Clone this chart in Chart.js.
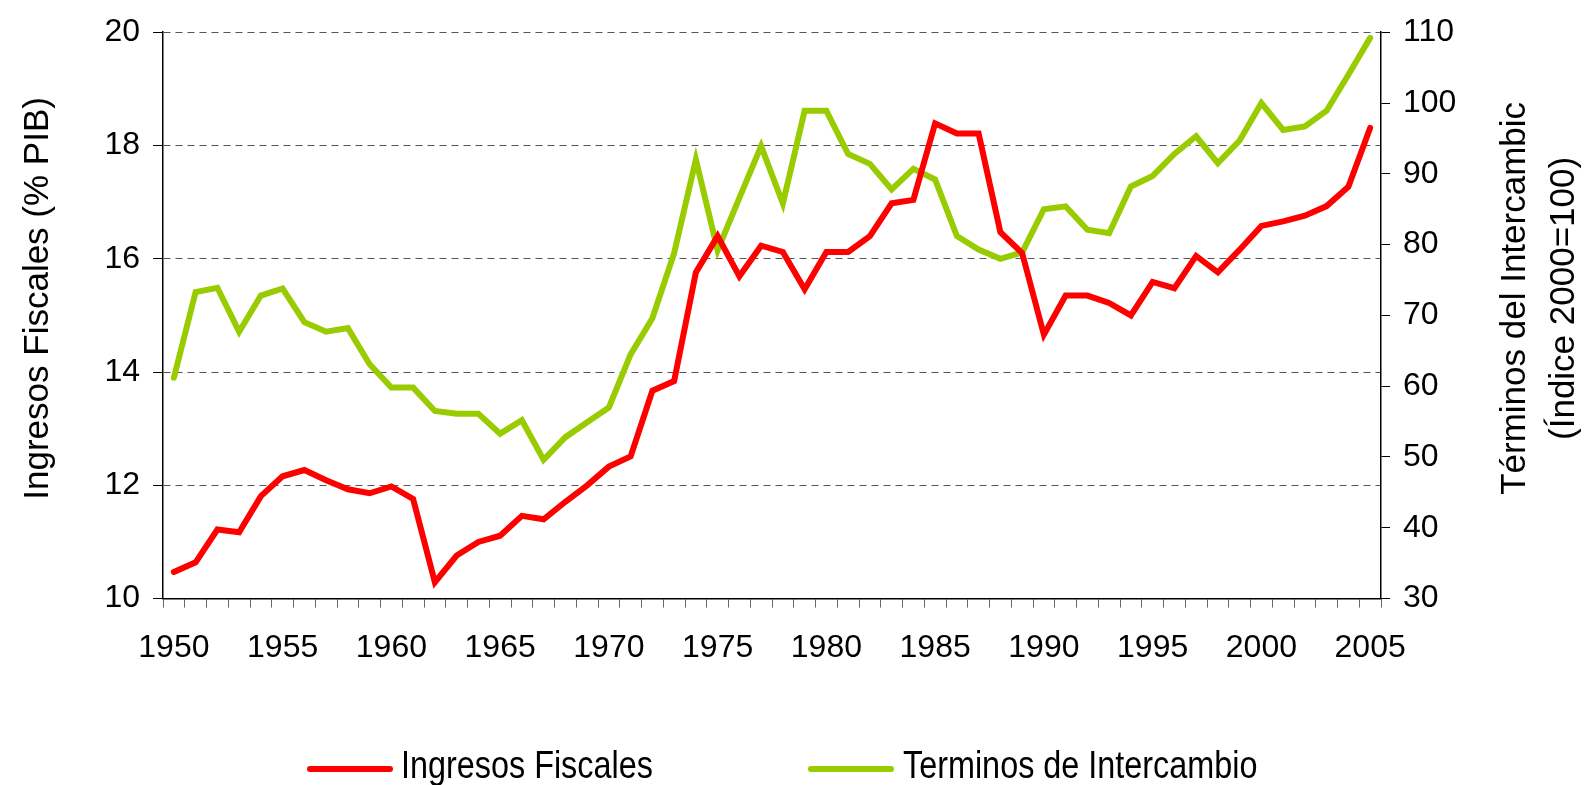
<!DOCTYPE html>
<html lang="es">
<head>
<meta charset="utf-8">
<title>Ingresos Fiscales y Terminos de Intercambio</title>
<script src="https://cdn.jsdelivr.net/npm/chart.js@4.4.1/dist/chart.umd.min.js"></script>
<style>
    html, body { margin: 0; padding: 0; background: #fff; }
    #contenedor { position: relative; width: 1585px; height: 785px; }
    #leyenda { position: absolute; left: 0; top: 0; width: 1585px; height: 785px; pointer-events: none; }
    /* el original usa una letra angosta: se comprime en horizontal */
    .item { position: absolute; top: 745px; height: 39px; line-height: 39px; white-space: nowrap;
            font-family: "Liberation Sans", Arial, sans-serif;
            font-size: 39px; color: #000;
            transform: scaleX(0.83); transform-origin: 0 50%; }
    .linea { position: absolute; height: 6px; border-radius: 3px; top: 766px; }
</style>
</head>
<body>
<div id="contenedor">
    <canvas id="grafico" width="1585" height="785"></canvas>
    <div id="leyenda">
        <div class="linea" style="left:307px;width:86px;background:#ff0000"></div>
        <div class="item" style="left:401px">Ingresos Fiscales</div>
        <div class="linea" style="left:808px;width:86px;background:#99cc00"></div>
        <div class="item" style="left:903px">Terminos de Intercambio</div>
    </div>
</div>
<script>
// -------- DATOS --------
const anios = [
    "1950", "1951", "1952", "1953", "1954", "1955", "1956", "1957", "1958", "1959",
    "1960", "1961", "1962", "1963", "1964", "1965", "1966", "1967", "1968", "1969",
    "1970", "1971", "1972", "1973", "1974", "1975", "1976", "1977", "1978", "1979",
    "1980", "1981", "1982", "1983", "1984", "1985", "1986", "1987", "1988", "1989",
    "1990", "1991", "1992", "1993", "1994", "1995", "1996", "1997", "1998", "1999",
    "2000", "2001", "2002", "2003", "2004", "2005"
];

// % del PIB (eje izquierdo)
const ingresosFiscales = [
    10.47, 10.64, 11.22, 11.17, 11.81, 12.16, 12.27, 12.09, 11.93, 11.86,
    11.98, 11.76, 10.29, 10.76, 11.00, 11.11, 11.46, 11.40, 11.71, 12.00,
    12.33, 12.51, 13.67, 13.84, 15.76, 16.40, 15.69, 16.23, 16.12, 15.46,
    16.12, 16.12, 16.40, 16.98, 17.04, 18.39, 18.21, 18.21, 16.47, 16.10,
    14.66, 15.35, 15.35, 15.22, 15.00, 15.59, 15.48, 16.05, 15.76, 16.16,
    16.58, 16.66, 16.76, 16.93, 17.27, 18.31
];

// indice 2000=100 (eje derecho)
const terminosIntercambio = [
    61.2, 73.3, 73.9, 67.7, 72.8, 73.8, 69.05, 67.7, 68.2, 63.1,
    59.8, 59.8, 56.5, 56.1, 56.1, 53.3, 55.2, 49.6, 52.8, 54.9,
    57.0, 64.5, 69.6, 78.8, 92.0, 79.2, 86.6, 93.9, 85.8, 98.9,
    98.9, 92.8, 91.4, 87.8, 90.7, 89.2, 81.2, 79.3, 78.0, 78.9,
    85.0, 85.4, 82.1, 81.6, 88.2, 89.7, 92.8, 95.3, 91.5, 94.7,
    100.0, 96.2, 96.7, 98.9, 104.0, 109.2
];

const ticksIzq = { min: 10, max: 20, paso: 2 };
const ticksDer = { min: 30, max: 110, paso: 10 };

const tituloIzq = ["Ingresos Fiscales (% PIB)"];
const tituloDer = ["Términos del Intercambic", "(Índice 2000=100)"];

// -------- HELPERS --------
const fuente = "'Liberation Sans', Arial, sans-serif";

// titulos de los ejes girados -90 (como en el original, ambos de abajo hacia arriba)
const titulosEjes = {
    id: "titulosEjes",
    afterDraw(chart) {
        const ctx = chart.ctx;
        const area = chart.chartArea;
        const centroY = (area.top + area.bottom) / 2 - 17;
        ctx.save();
        ctx.fillStyle = "#000";
        ctx.font = "35px " + fuente;
        ctx.textAlign = "center";
        ctx.textBaseline = "middle";

        const dibujar = (texto, x) => {
            ctx.save();
            ctx.translate(x, centroY);
            ctx.rotate(-Math.PI / 2);
            ctx.fillText(texto, 0, 0);
            ctx.restore();
        };

        dibujar(tituloIzq[0], 38);
        dibujar(tituloDer[0], 1515);
        dibujar(tituloDer[1], 1564);
        ctx.restore();
    }
};

// -------- GRAFICO --------
Chart.defaults.font.family = fuente;
Chart.defaults.color = "#000";

new Chart(document.getElementById("grafico"), {
    type: "line",
    data: {
        labels: anios,
        datasets: [
            {
                label: "Ingresos Fiscales",
                data: ingresosFiscales,
                yAxisID: "y",
                borderColor: "#ff0000",
                backgroundColor: "#ff0000",
                borderWidth: 6,
                borderCapStyle: "round",
                pointRadius: 0,
                tension: 0
            },
            {
                label: "Terminos de Intercambio",
                data: terminosIntercambio,
                yAxisID: "y2",
                borderColor: "#99cc00",
                backgroundColor: "#99cc00",
                borderWidth: 6,
                borderCapStyle: "round",
                pointRadius: 0,
                tension: 0
            }
        ]
    },
    options: {
        responsive: false,
        animation: false,
        devicePixelRatio: 1,
        layout: { padding: { top: 29, bottom: 97, left: 0, right: 0 } },
        plugins: {
            legend: { display: false },
            tooltip: { enabled: false }
        },
        scales: {
            x: {
                offset: true,
                grid: {
                    offset: true,
                    drawOnChartArea: false,
                    tickLength: 9,
                    tickColor: "#666"
                },
                border: { color: "#000", width: 1.5 },
                ticks: {
                    autoSkip: false,
                    maxRotation: 0,
                    padding: 21,
                    font: { size: 32 },
                    callback: (valor, i) => (Number(anios[i]) % 5 === 0 ? anios[i] : "")
                }
            },
            y: {
                position: "left",
                min: ticksIzq.min,
                max: ticksIzq.max,
                afterFit: s => { s.width = 163; },
                grid: {
                    color: "#555",
                    lineWidth: 1,
                    tickLength: 10,
                    tickColor: "#000",
                    tickBorderDash: []
                },
                border: { color: "#000", width: 1.5, dash: [7, 5] },
                ticks: {
                    stepSize: ticksIzq.paso,
                    padding: 13,
                    font: { size: 32 }
                }
            },
            y2: {
                position: "right",
                min: ticksDer.min,
                max: ticksDer.max,
                afterFit: s => { s.width = 204; },
                grid: {
                    drawOnChartArea: false,
                    tickLength: 9,
                    tickColor: "#000"
                },
                border: { color: "#000", width: 1.5 },
                ticks: {
                    stepSize: ticksDer.paso,
                    padding: 13,
                    font: { size: 32 }
                }
            }
        }
    },
    plugins: [titulosEjes]
});
</script>
</body>
</html>
